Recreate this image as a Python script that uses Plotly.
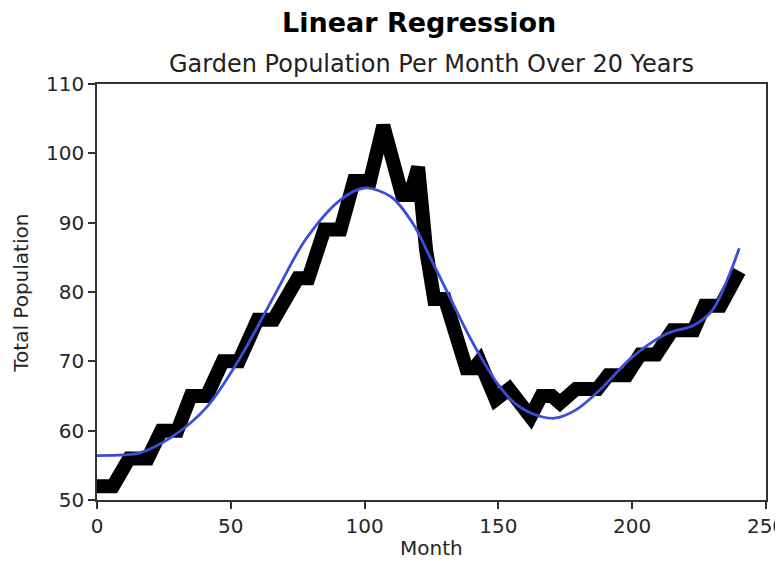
import plotly.graph_objects as go

# Observed (black) population series: month vertices and totals
months = [0, 6, 12, 19, 24, 30, 35, 41, 47, 53, 60, 66, 75, 79, 85, 91, 96, 102, 107,
          114, 117, 120, 123, 126, 130, 133, 138, 141, 143, 149, 154, 162, 166, 170,
          173, 179, 187, 191, 198, 203, 209, 215, 223, 227, 233, 240]
population = [52, 52, 56, 56, 60, 60, 65, 65, 70, 70, 76, 76, 82, 82, 89, 89, 96, 96, 104,
              94, 94, 98, 86, 79, 79, 74.5, 69, 69, 70, 64.5, 66, 62, 65, 65,
              64, 66, 66, 68, 68, 71, 71, 74.5, 74.5, 78, 78, 83]

# Fitted regression curve (blue)
fit_months = [0, 10, 16, 28, 41, 53, 66, 78, 91, 100, 110, 118, 125, 131, 137, 143,
              150, 156, 163, 171, 179, 188, 200, 213, 223, 230, 236, 240]
fit_values = [56.4, 56.5, 56.8, 59.1, 63.4, 70.2, 79.3, 87.6, 93.3, 95, 93.7, 89.9, 84.6,
              79.9, 75.2, 70.9, 66.6, 64.0, 62.4, 61.8, 63, 65.9, 70.6, 74, 75.2, 77.4,
              82.2, 86.3]

x_ticks = [0, 50, 100, 150, 200, 250]
y_ticks = [50, 60, 70, 80, 90, 100, 110]

FONT = "DejaVu Sans"

fig = go.Figure()
fig.add_trace(go.Scatter(x=months, y=population, mode="lines",
                         line=dict(color="black", width=14), showlegend=False,
                         hoverinfo="skip"))
fig.add_trace(go.Scatter(x=fit_months, y=fit_values, mode="lines",
                         line=dict(color="rgb(58,78,215)", width=2.8, shape="spline",
                                   smoothing=0.9),
                         showlegend=False))

axis_common = dict(showgrid=False, zeroline=False, showline=True, linecolor="#333333",
                   linewidth=1.5, mirror=True, ticks="outside", ticklen=7,
                   tickwidth=1.5, tickcolor="#333333", ticklabeloverflow="allow",
                   automargin=False,
                   tickfont=dict(family=FONT, size=20, color="#262626"))

fig.update_layout(
    width=775, height=553,
    margin=dict(l=89, r=17, t=76, b=61, autoexpand=False),
    paper_bgcolor="white", plot_bgcolor="white",
    xaxis=dict(range=[0, 250], tickvals=x_ticks, ticktext=[str(v) for v in x_ticks],
               **axis_common),
    yaxis=dict(range=[50, 110], tickvals=y_ticks, ticktext=[str(v) for v in y_ticks],
               **axis_common),
    annotations=[
        dict(text="<b>Linear Regression</b>", x=0.481, y=1.149, xref="paper", yref="paper",
             showarrow=False, xanchor="center", yanchor="middle",
             font=dict(family=FONT, size=27, color="black")),
        dict(text="Garden Population Per Month Over 20 Years", x=0.5, y=1.048,
             xref="paper", yref="paper", showarrow=False, xanchor="center",
             yanchor="middle", font=dict(family=FONT, size=24, color="#222222")),
        dict(text="Month", x=0.5, y=-0.116, xref="paper", yref="paper", showarrow=False,
             xanchor="center", yanchor="middle",
             font=dict(family=FONT, size=20, color="#262626")),
        dict(text="Total Population", x=-0.114, y=0.4976, xref="paper", yref="paper",
             showarrow=False, xanchor="center", yanchor="middle", textangle=-90,
             font=dict(family=FONT, size=20, color="#262626")),
    ],
)

fig.write_html("out.html")
